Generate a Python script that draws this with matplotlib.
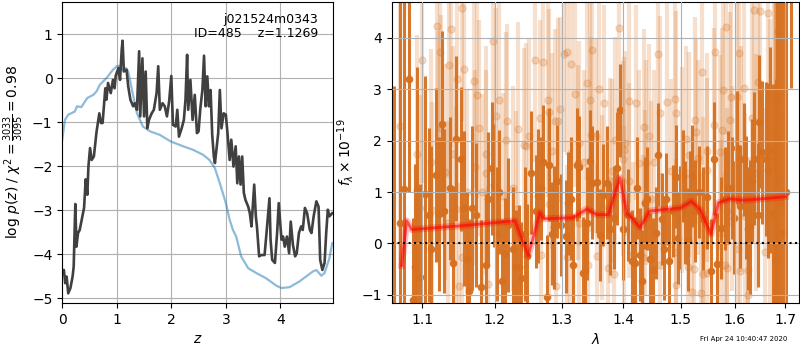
import matplotlib
matplotlib.use('Agg')
import matplotlib.pyplot as plt
from matplotlib.ticker import FixedLocator, FixedFormatter, NullLocator

# p(z) traces
z_chi = [0.0, 0.03, 0.055, 0.08, 0.11, 0.15, 0.19, 0.21, 0.24, 0.26, 0.29, 0.32, 0.37, 0.40,
         0.43, 0.46, 0.48, 0.51, 0.54, 0.58, 0.63, 0.68, 0.71, 0.74, 0.79, 0.81, 0.84, 0.89,
         0.93, 0.96, 0.98, 1.03, 1.06, 1.09, 1.106, 1.13, 1.18, 1.21, 1.25, 1.30, 1.33, 1.37,
         1.41, 1.43, 1.47, 1.50, 1.53, 1.56, 1.59, 1.64, 1.68, 1.73, 1.76, 1.79, 1.84, 1.88,
         1.92, 1.96, 2.00, 2.03, 2.08, 2.11, 2.14, 2.19, 2.23, 2.26, 2.29, 2.31, 2.35, 2.39,
         2.43, 2.47, 2.50, 2.53, 2.57, 2.60, 2.63, 2.66, 2.69, 2.72, 2.75, 2.78, 2.80, 2.83,
         2.86, 2.89, 2.92, 2.96, 3.00, 3.03, 3.07, 3.10, 3.14, 3.18, 3.21, 3.24, 3.27, 3.30,
         3.33, 3.36, 3.41, 3.44, 3.47, 3.52, 3.55, 3.57, 3.61, 3.65, 3.71, 3.74, 3.80, 3.82,
         3.85, 3.90, 3.94, 3.97, 4.02, 4.05, 4.08, 4.12, 4.16, 4.19, 4.23, 4.27, 4.30, 4.34,
         4.38, 4.41, 4.45, 4.49, 4.54, 4.57, 4.61, 4.66, 4.70, 4.73, 4.77, 4.81, 4.84, 4.87,
         4.90, 4.95]
logp_chi = [-4.43, -4.36, -4.66, -4.51, -4.89, -4.77, -4.51, -4.28, -2.86, -3.83, -3.52, -3.45,
            -3.14, -2.95, -2.30, -2.65, -2.01, -1.59, -1.86, -1.78, -1.21, -0.80, -1.02, -1.02,
            -0.23, -0.49, -0.11, -0.34, -0.04, -0.23, 0.05, 0.23, -0.04, 0.64, 0.85, 0.15, 0.19,
            -0.19, -0.49, -0.64, -0.57, -0.72, 0.61, -0.87, 0.45, -0.87, 0.15, -1.14, -0.95,
            -0.80, -0.72, -0.34, 0.27, -0.72, -0.57, -0.64, -0.87, -0.53, 0.05, -1.06, -1.10,
            -0.72, -1.33, -1.14, -0.95, -0.49, 0.53, -0.72, -0.04, -0.95, -0.38, -1.25, -1.21,
            -0.72, -0.27, 0.51, -0.64, 0.04, -0.64, -0.27, -1.29, -1.78, -1.93, -1.59, -1.25,
            -0.27, -1.14, -0.80, -0.83, -1.25, -1.86, -1.40, -2.01, -1.55, -2.39, -1.78, -2.42,
            -1.78, -2.61, -2.77, -2.92, -3.07, -3.37, -2.42, -3.14, -3.37, -4.05, -4.02, -4.02,
            -3.60, -2.73, -3.67, -4.13, -4.20, -3.52, -2.84, -3.67, -3.60, -3.83, -3.60, -3.98,
            -3.26, -3.79, -4.05, -3.98, -3.52, -3.37, -3.45, -2.95, -3.07, -3.45, -3.52, -3.14,
            -2.80, -2.92, -4.13, -4.36, -4.20, -3.52, -2.99, -3.14, -3.07]

z_prior = [0.0, 0.05, 0.11, 0.23, 0.27, 0.35, 0.46, 0.57, 0.63, 0.69, 0.81, 0.93, 1.00, 1.04,
           1.10, 1.17, 1.21, 1.29, 1.37, 1.48, 1.61, 1.79, 1.99, 2.22, 2.40, 2.58, 2.70, 2.80,
           2.89, 3.00, 3.07, 3.13, 3.19, 3.28, 3.41, 3.56, 3.74, 3.93, 4.02, 4.17, 4.35, 4.60,
           4.66, 4.75, 4.81, 4.90, 4.95]
logp_prior = [-1.40, -0.95, -0.83, -0.76, -0.64, -0.66, -0.45, -0.38, -0.30, -0.15, 0.0, 0.19,
              0.27, 0.28, 0.19, 0.23, 0.15, -0.34, -0.80, -1.10, -1.21, -1.29, -1.44, -1.55,
              -1.63, -1.74, -1.86, -2.05, -2.39, -2.84, -3.22, -3.45, -3.60, -4.05, -4.32, -4.43,
              -4.55, -4.72, -4.77, -4.75, -4.62, -4.39, -4.36, -4.49, -4.43, -4.09, -3.75]

# 1D spectrum, first beam (opaque)
wave_a = [1.0629, 1.0705, 1.0760, 1.0829, 1.0873, 1.0904, 1.0934, 1.0969, 1.1031, 1.1084,
          1.1119, 1.1186, 1.1222, 1.1267, 1.1294, 1.1375, 1.1416, 1.1457, 1.1522, 1.1563,
          1.1601, 1.1637, 1.1679, 1.1732, 1.1798, 1.1879, 1.1906, 1.1955, 1.1990, 1.2035,
          1.2065, 1.2110, 1.2146, 1.2190, 1.2269, 1.2309, 1.2358, 1.2383, 1.2443, 1.2477,
          1.2527, 1.2603, 1.2642, 1.2683, 1.2718, 1.2770, 1.2810, 1.2847, 1.2887, 1.2934,
          1.2987, 1.3066, 1.3107, 1.3149, 1.3186, 1.3240, 1.3281, 1.3336, 1.3372, 1.3409,
          1.3452, 1.3489, 1.3560, 1.3610, 1.3670, 1.3720, 1.3780, 1.3850, 1.3900, 1.3945,
          1.4000, 1.4070, 1.4143, 1.4190, 1.4230, 1.4280, 1.4320, 1.4370, 1.4410, 1.4460,
          1.4510, 1.4550, 1.4600, 1.4660, 1.4695, 1.4740, 1.4790, 1.4850, 1.4910, 1.4950,
          1.4990, 1.5030, 1.5070, 1.5120, 1.5160, 1.5200, 1.5260, 1.5330, 1.5410, 1.5480,
          1.5550, 1.5600, 1.5660, 1.5740, 1.5820, 1.5880, 1.5940, 1.5990, 1.6040, 1.6100,
          1.6170, 1.6220, 1.6260, 1.6300, 1.6330, 1.6380, 1.6450, 1.6480, 1.6540, 1.6610,
          1.6650, 1.6690, 1.6750, 1.6810, 1.6830, 1.6898, 1.6960, 1.7020, 1.7116]
flux_a = [-4.00, 0.40, 1.05, 3.20, -1.11, -0.45, 1.04, -0.65, 0.96, 0.55,
          -0.11, 1.33, 0.57, 2.33, 0.63, 1.07, -0.39, 2.04, 1.64, 0.68,
          -0.30, -0.93, 0.69, 0.55, -0.85, -0.43, 0.86, 1.46, 1.13, 0.18,
          1.00, -0.73, -0.21, 0.36, -0.11, -0.45, -0.45, -0.68, 0.18, -0.24,
          1.38, 0.63, 0.92, 1.07, 1.59, -1.04, 1.53, 0.19, 0.31, 1.21,
          0.36, 0.14, 0.78, 0.87, -0.42, 1.53, 1.49, -0.58, -0.53, 0.39,
          1.60, 1.18, 1.20, 0.16, 0.94, 1.18, 0.28, 0.50, 1.46, 2.59,
          0.28, 0.55, -0.34, -0.38, 1.08, -0.22, -0.74, 0.79, 0.87, -0.30,
          -0.51, 0.20, 1.73, 0.47, -0.10, 0.86, -0.34, 0.63, 1.30, 0.11,
          0.50, 1.31, 0.60, 0.07, 0.90, 1.31, 0.63, 1.00, 0.48, 0.90,
          -0.53, 1.65, -0.40, 0.30, 0.87, 1.08, 1.08, 0.50, 1.86, 0.72,
          1.64, 0.90, 0.29, 0.32, 1.22, 1.65, 0.55, 2.37, 1.77, 1.64,
          1.42, 1.82, 0.60, -0.30, -0.33, 0.80, 0.20, 1.00, 8.00]
err_a = [7.07, 6.5, 5.5, 2.2, 1.6, 2.0, 2.4, 1.8, 2.3, 1.7,
         2.0, 1.7, 1.5, 1.8, 1.6, 1.4, 1.5, 1.6, 1.4, 1.5,
         1.3, 1.4, 1.6, 1.4, 1.3, 1.4, 1.3, 1.3, 1.2, 1.3,
         1.2, 1.2, 1.1, 1.3, 1.2, 1.1, 1.2, 1.1, 1.3, 1.0,
         1.2, 1.1, 1.3, 1.0, 1.1, 1.2, 1.1, 1.0, 1.2, 1.1,
         1.0, 1.1, 1.0, 1.2, 1.0, 1.1, 1.0, 1.1, 1.0, 1.1,
         1.0, 1.1, 1.0, 0.9, 1.0, 1.1, 0.9, 1.0, 1.1, 0.9,
         1.0, 0.9, 1.0, 0.9, 1.0, 0.9, 1.0, 0.9, 1.0, 0.9,
         1.0, 0.9, 1.0, 0.9, 1.0, 0.9, 1.0, 0.9, 1.0, 0.9,
         1.0, 0.9, 1.0, 1.0, 0.9, 1.0, 1.0, 0.9, 1.0, 1.0,
         1.0, 1.1, 1.0, 1.0, 1.0, 1.1, 1.0, 1.1, 1.1, 1.2,
         1.1, 1.2, 1.2, 1.3, 1.2, 1.3, 1.4, 1.3, 1.4, 1.5,
         1.7, 2.0, 2.5, 3.5, 5.5, 6.5, 7.0, 7.0, 4.97]

# second beam (transparent)
wave_b = [1.0710, 1.0930, 1.0970, 1.0990, 1.1110, 1.1130, 1.1190, 1.1210, 1.1230, 1.1250,
          1.1310, 1.1350, 1.1355, 1.1385, 1.1410, 1.1450, 1.1470, 1.1490, 1.1530, 1.1540,
          1.1570, 1.1600, 1.1700, 1.1720, 1.1740, 1.1780, 1.1820, 1.1870, 1.1880, 1.1900,
          1.1980, 1.2020, 1.2060, 1.2120, 1.2160, 1.2170, 1.2270, 1.2310, 1.2340, 1.2420,
          1.2460, 1.2500, 1.2590, 1.2660, 1.2680, 1.2720, 1.2795, 1.2800, 1.2810, 1.2850,
          1.2900, 1.2920, 1.2950, 1.2980, 1.3040, 1.3085, 1.3090, 1.3130, 1.3150, 1.3210,
          1.3260, 1.3270, 1.3280, 1.3360, 1.3400, 1.3420, 1.3450, 1.3470, 1.3480, 1.3555,
          1.3560, 1.3590, 1.3640, 1.3680, 1.3740, 1.3770, 1.3810, 1.3840, 1.3860, 1.3930,
          1.4000, 1.4005, 1.4010, 1.4030, 1.4090, 1.4100, 1.4170, 1.4220, 1.4270, 1.4340,
          1.4355, 1.4360, 1.4390, 1.4430, 1.4480, 1.4530, 1.4600, 1.4620, 1.4630, 1.4760,
          1.4830, 1.4890, 1.4910, 1.4915, 1.4920, 1.5020, 1.5090, 1.5120, 1.5150, 1.5210,
          1.5230, 1.5260, 1.5280, 1.5320, 1.5360, 1.5390, 1.5405, 1.5410, 1.5470, 1.5475,
          1.5480, 1.5600, 1.5620, 1.5720, 1.5730, 1.5750, 1.5780, 1.5810, 1.5830, 1.5850,
          1.5860, 1.5910, 1.5935, 1.5940, 1.6040, 1.6070, 1.6090, 1.6110, 1.6130, 1.6180,
          1.6200, 1.6255, 1.6260, 1.6330, 1.6380, 1.6410, 1.6460, 1.6490, 1.6590, 1.6650,
          1.6690, 1.6770, 1.6790, 1.6810, 1.6820, 1.6830, 1.6850, 1.6860, 1.6915, 1.6920]
flux_b = [2.28, 1.75, 0.69, 3.58, 1.59, 0.65, 4.24, 1.93, 3.73, 2.25,
          1.39, 0.39, 3.48, 4.17, 1.75, 0.67, 3.20, -0.83, -0.27, 4.59,
          3.40, 1.01, 3.17, 1.48, 2.88, 2.24, 1.00, 1.38, 1.75, -0.79,
          3.95, 2.49, 2.80, 0.92, 2.02, 2.38, 1.07, 0.67, 2.22, 1.91,
          1.90, 2.09, 3.58, 2.45, -0.23, 3.53, 2.80, 0.76, 2.56, 1.80,
          2.38, -0.82, 2.38, 2.61, 3.68, 3.72, -0.27, -0.09, 3.50, 2.90,
          1.57, 0.39, 1.95, 1.58, 3.13, -0.43, 2.80, 2.12, 3.77, 2.10,
          -0.24, 3.01, 0.70, 2.74, -0.47, 1.22, 1.41, -0.60, 2.01, 4.19,
          1.65, 1.82, 0.28, 1.95, 1.22, 2.78, -0.21, 2.74, 1.57, -0.27,
          2.27, 0.80, 1.57, 2.09, 0.87, 1.58, 3.68, 2.53, -0.43, 2.76,
          1.41, 2.82, 2.53, -0.16, -0.81, 1.43, 2.04, -0.45, 1.73, -0.95,
          -0.49, 2.41, 2.17, 1.67, -0.97, 3.33, 0.57, -0.60, 1.43, 1.80,
          -0.58, 2.30, 3.72, 1.77, 0.21, 2.20, 2.98, -0.42, 4.21, -0.47,
          0.63, 2.41, 2.85, 1.07, 2.85, -0.11, 3.71, -0.53, 1.64, 3.03,
          0.54, -0.51, -1.00, 2.45, 4.55, 1.38, 3.14, 4.53, -0.17, 4.49,
          0.57, 1.65, 2.82, 2.07, 1.22, 2.77, 2.02, 4.14, 2.49, 0.68]
err_b = [2.6, 2.3, 2.2, 2.4, 2.2, 2.1, 2.3, 2.2, 2.4, 2.2,
         2.1, 2.0, 2.2, 2.3, 2.1, 2.0, 2.2, 2.0, 1.9, 2.2,
         2.1, 2.0, 2.1, 1.9, 2.0, 2.1, 1.9, 2.0, 2.1, 1.9,
         2.0, 2.1, 1.9, 2.0, 2.1, 1.9, 2.0, 1.9, 2.1, 1.9,
         2.0, 1.9, 2.0, 1.9, 1.8, 2.0, 1.9, 1.8, 2.0, 1.9,
         1.8, 1.9, 2.0, 1.8, 1.9, 2.0, 1.8, 1.9, 2.0, 1.8,
         1.9, 1.8, 2.0, 1.8, 1.9, 1.8, 2.0, 1.9, 1.8, 1.9,
         1.8, 2.0, 1.8, 1.9, 1.8, 2.0, 1.8, 1.9, 2.0, 1.8,
         1.9, 1.8, 2.0, 1.8, 1.9, 2.0, 1.8, 1.9, 1.8, 2.0,
         1.9, 1.8, 2.0, 1.8, 1.9, 1.8, 2.0, 1.9, 1.8, 2.0,
         1.8, 1.9, 2.0, 1.8, 1.9, 2.0, 1.8, 1.9, 2.0, 1.8,
         1.9, 2.0, 1.8, 1.9, 2.0, 1.8, 1.9, 2.0, 1.8, 1.9,
         2.0, 1.9, 2.0, 1.9, 1.8, 2.0, 1.9, 1.8, 2.1, 1.9,
         2.0, 2.1, 1.9, 2.0, 2.1, 1.9, 2.1, 2.0, 2.2, 2.1,
         2.0, 2.2, 2.1, 2.3, 2.4, 2.3, 2.5, 2.6, 2.8, 3.2,
         3.8, 4.5, 5.5, 6.0, 6.5, 6.0, 6.5, 6.0, 7.0, 7.0]

# best-fit template
wave_model = [1.0730, 1.0796, 1.0860, 1.1500, 1.2293, 1.2490, 1.2667, 1.2717, 1.3180, 1.3400,
              1.3560, 1.3750, 1.3940, 1.4060, 1.4140, 1.4280, 1.4450, 1.4990, 1.5190, 1.5350,
              1.5550, 1.5690, 1.5910, 1.6166, 1.6563, 1.7000]
flux_model = [-0.43, 0.44, 0.27, 0.34, 0.44, -0.24, 0.60, 0.48, 0.50, 0.67,
              0.56, 0.56, 1.28, 0.58, 0.50, 0.31, 0.63, 0.69, 0.82, 0.66,
              0.18, 0.79, 0.87, 0.84, 0.87, 0.91]

lam_ticks = [1.1, 1.2, 1.3, 1.4, 1.5, 1.6, 1.7]
orange = '#d6701f'

fig = plt.figure(figsize=(8, 3.5), dpi=100)
ax_z = fig.add_axes([0.0778, 0.1343, 0.3388, 0.86])
ax_s = fig.add_axes([0.4896, 0.1343, 0.5094, 0.86])

# redshift panel
ax_z.plot(z_prior, logp_prior, color='C0', alpha=0.5, lw=1.6)
ax_z.plot(z_chi, logp_chi, color='0.25', lw=1.9)
ax_z.set_xlim(0, 4.97)
ax_z.set_ylim(-5.11, 1.73)
ax_z.set_xticks([0, 1, 2, 3, 4])
ax_z.set_yticks([-5, -4, -3, -2, -1, 0, 1])
ax_z.grid(True)
ax_z.set_xlabel(r'$z$')
ax_z.set_ylabel(r'log $p(z)$ / $\chi^2=\frac{3033}{3095}=0.98$')
ax_z.text(0.945, 0.965, 'j021524m0343\nID=485    z=1.1269', transform=ax_z.transAxes,
          ha='right', va='top', fontsize=9, linespacing=1.1)

# spectrum panel
ax_s.errorbar(wave_b, flux_b, yerr=err_b, fmt='o', color=orange, alpha=0.22,
              ms=5, elinewidth=3, capsize=0, zorder=1)
ax_s.errorbar(wave_a, flux_a, yerr=err_a, fmt='o', color=orange, alpha=0.95,
              ms=4.5, elinewidth=2.2, capsize=0, zorder=2)
ax_s.plot(wave_model, flux_model, color='r', alpha=0.25, lw=5, zorder=3)
ax_s.plot(wave_model, flux_model, color='r', alpha=0.6, lw=2, zorder=4)
ax_s.axhline(0, color='k', ls=':', lw=1.5, zorder=5)

ax_s.set_xscale('log')
ax_s.set_xlim(1.0603, 1.7287)
ax_s.set_ylim(-1.16, 4.70)
ax_s.xaxis.set_major_locator(FixedLocator(lam_ticks))
ax_s.xaxis.set_major_formatter(FixedFormatter([f'{t:.1f}' for t in lam_ticks]))
ax_s.xaxis.set_minor_locator(NullLocator())
ax_s.set_yticks([-1, 0, 1, 2, 3, 4])
ax_s.grid(True)
ax_s.set_axisbelow(False)
ax_s.set_xlabel(r'$\lambda$')
ax_s.set_ylabel(r'$f_\lambda \times 10^{-19}$')

fig.text(0.984, 0.022, 'Fri Apr 24 10:40:47 2020', ha='right', va='bottom', fontsize=5)

fig.savefig('out.png', dpi=100)
